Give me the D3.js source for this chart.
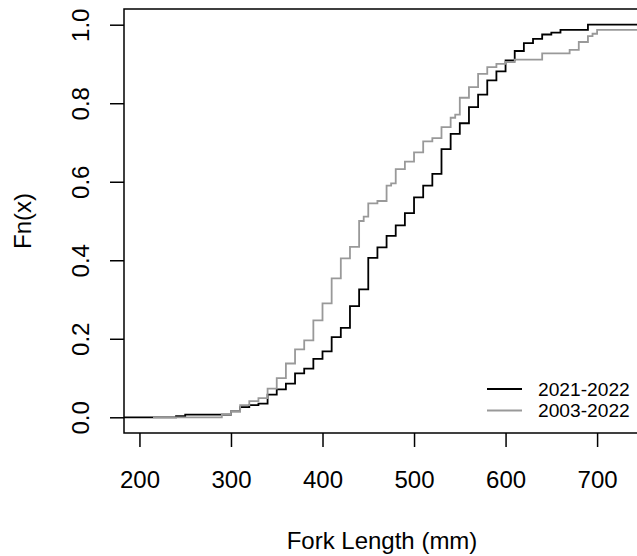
<!DOCTYPE html>
<html lang="en">
<head>
<meta charset="UTF-8">
<script src="https://d3js.org/d3.v7.min.js"></script>
<style>
  body { margin: 0; background: #fff; }
  svg text { font-family: "Liberation Sans", Arial, sans-serif; fill: #000; }
</style>
</head>
<body>
<div id="container"></div>
<script>
// fork lengths (mm) where each ECDF jumps, and the cumulative proportion after the jump
var lengths2122 = [240, 250, 300, 310, 320, 330, 340, 350, 360, 370, 380, 390, 400, 410, 420,
                   430, 440, 450, 460, 470, 480, 490, 500, 510, 520, 530, 540, 550, 560, 570,
                   580, 590, 600, 610, 620, 630, 640, 650, 660, 690];
var ecdf2122 = [0.003, 0.007, 0.015, 0.026, 0.031, 0.035, 0.058, 0.071, 0.086, 0.112, 0.124, 0.149,
                0.168, 0.204, 0.228, 0.283, 0.326, 0.406, 0.433, 0.462, 0.489, 0.520, 0.560, 0.590,
                0.620, 0.683, 0.722, 0.749, 0.790, 0.822, 0.858, 0.881, 0.909, 0.933, 0.953, 0.964,
                0.975, 0.980, 0.987, 1.000];

var lengths0322 = [290, 300, 310, 320, 330, 340, 350, 360, 370, 380, 390, 400, 410, 420, 430,
                   440, 445, 450, 460, 470, 475, 480, 490, 500, 510, 520, 530, 540, 545, 550,
                   560, 570, 580, 590, 600, 610, 640, 670, 680, 690, 695, 700, 760];
var ecdf0322 = [0.008, 0.015, 0.031, 0.041, 0.049, 0.073, 0.100, 0.137, 0.173, 0.196, 0.247, 0.290,
                0.354, 0.405, 0.434, 0.500, 0.511, 0.545, 0.551, 0.590, 0.596, 0.632, 0.651, 0.675,
                0.703, 0.711, 0.739, 0.763, 0.771, 0.814, 0.841, 0.875, 0.892, 0.900, 0.905, 0.911,
                0.927, 0.936, 0.956, 0.971, 0.977, 0.987, 1.000];

var seriesNames = ["2021-2022", "2003-2022"];
var seriesColors = ["#000000", "#999999"];
var xTicks = [200, 300, 400, 500, 600, 700];
var yTicks = [0, 0.2, 0.4, 0.6, 0.8, 1.0];

var width = 637, height = 556;
var box = { left: 124, top: 9, right: 640, bottom: 433 };

// same padding rule as R's plot.stepfun: dr = max(8% of range, median gap)
function stepPad(knots) {
  var gaps = d3.pairs(knots, function (a, b) { return b - a; });
  return Math.max(0.08 * (d3.max(knots) - d3.min(knots)), d3.median(gaps));
}

var dr0 = stepPad(lengths2122);
var xlim = [d3.min(lengths2122) - dr0, d3.max(lengths2122) + dr0];
var xpad = 0.04 * (xlim[1] - xlim[0]);

var x = d3.scaleLinear().domain([xlim[0] - xpad, xlim[1] + xpad]).range([box.left, box.right]);
var y = d3.scaleLinear().domain([-0.04, 1.04]).range([box.bottom, box.top]);

var svg = d3.select("#container").append("svg").attr("width", width).attr("height", height);

svg.append("clipPath").attr("id", "plotclip")
  .append("rect")
  .attr("x", box.left).attr("y", box.top)
  .attr("width", box.right - box.left).attr("height", box.bottom - box.top);

var line = d3.line()
  .x(function (d) { return x(d[0]); })
  .y(function (d) { return y(d[1]); })
  .curve(d3.curveStepAfter);

var series = [
  { knots: lengths2122, values: ecdf2122 },
  { knots: lengths0322, values: ecdf0322 }
];

series.forEach(function (s, i) {
  var dr = stepPad(s.knots);
  var pts = [[d3.min(s.knots) - 2 * dr, 0]];
  s.knots.forEach(function (k, j) { pts.push([k, s.values[j]]); });
  pts.push([d3.max(s.knots) + 2 * dr, s.values[s.values.length - 1]]);

  svg.append("path")
    .datum(pts)
    .attr("clip-path", "url(#plotclip)")
    .attr("fill", "none")
    .attr("stroke", seriesColors[i])
    .attr("stroke-width", 1.8)
    .attr("d", line);
});

// frame
svg.append("rect")
  .attr("x", box.left).attr("y", box.top)
  .attr("width", box.right - box.left).attr("height", box.bottom - box.top)
  .attr("fill", "none").attr("stroke", "#000").attr("stroke-width", 1.5);

// x axis
var xaxis = svg.append("g")
  .attr("transform", "translate(0," + box.bottom + ")")
  .call(d3.axisBottom(x).tickValues(xTicks).tickSize(14).tickFormat(d3.format("d")));
xaxis.select(".domain").remove();
xaxis.selectAll(".tick line").attr("stroke", "#000").attr("stroke-width", 1.5);
xaxis.selectAll(".tick text")
  .attr("y", 55).attr("dy", null)
  .attr("font-size", "24px").attr("font-family", "Liberation Sans, Arial, sans-serif")
  .attr("fill", "#000");

// y axis
var yaxis = svg.append("g")
  .attr("transform", "translate(" + box.left + ",0)")
  .call(d3.axisLeft(y).tickValues(yTicks).tickSize(14).tickFormat(d3.format(".1f")));
yaxis.select(".domain").remove();
yaxis.selectAll(".tick line").attr("stroke", "#000").attr("stroke-width", 1.5);
yaxis.selectAll(".tick text")
  .attr("x", null).attr("dy", null)
  .attr("transform", "translate(-35,0) rotate(-90)")
  .attr("text-anchor", "middle")
  .attr("font-size", "24px").attr("font-family", "Liberation Sans, Arial, sans-serif")
  .attr("fill", "#000");

// axis titles
svg.append("text")
  .attr("x", (box.left + box.right) / 2).attr("y", 549)
  .attr("text-anchor", "middle").attr("font-size", "24px")
  .text("Fork Length (mm)");

svg.append("text")
  .attr("transform", "translate(31," + y(0.5) + ") rotate(-90)")
  .attr("text-anchor", "middle").attr("font-size", "24px")
  .text("Fn(x)");

// legend
var legend = svg.append("g");
seriesNames.forEach(function (name, i) {
  var ly = 389 + i * 21.5;
  legend.append("line")
    .attr("x1", 487).attr("x2", 522).attr("y1", ly).attr("y2", ly)
    .attr("stroke", seriesColors[i]).attr("stroke-width", 1.8);
  legend.append("text")
    .attr("x", 538).attr("y", ly).attr("dy", "0.36em")
    .attr("font-size", "19.2px")
    .text(name);
});
</script>
</body>
</html>
